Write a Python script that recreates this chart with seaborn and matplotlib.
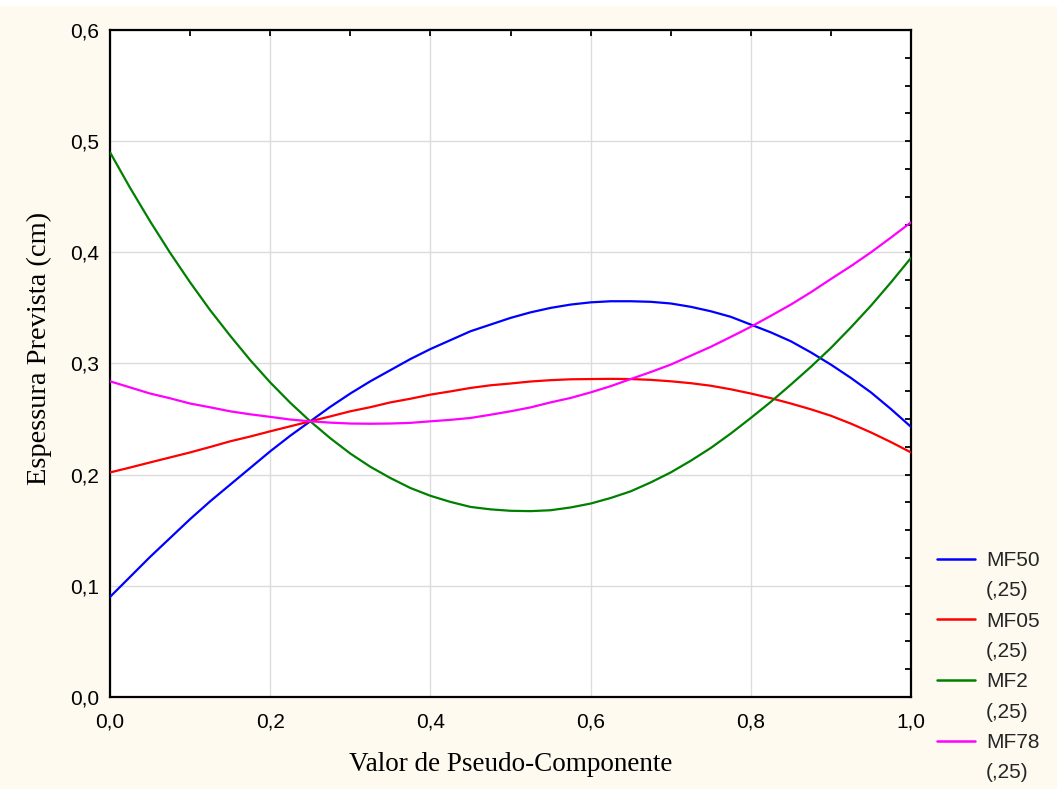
import matplotlib
matplotlib.use("Agg")
import matplotlib.pyplot as plt
import pandas as pd
import seaborn as sns
from matplotlib.lines import Line2D
from matplotlib.ticker import FuncFormatter, MultipleLocator

# ── Data ────────────────────────────────────────────────────────────
x_vals = [0.000, 0.025, 0.050, 0.075, 0.100, 0.125, 0.150, 0.175, 0.200, 0.225,
          0.250, 0.275, 0.300, 0.325, 0.350, 0.375, 0.400, 0.425, 0.450, 0.475,
          0.500, 0.525, 0.550, 0.575, 0.600, 0.625, 0.650, 0.675, 0.700, 0.725,
          0.750, 0.775, 0.800, 0.825, 0.850, 0.875, 0.900, 0.925, 0.950, 0.975,
          1.000]

mf50 = [0.090, 0.108, 0.126, 0.143, 0.160, 0.176, 0.191, 0.206, 0.221, 0.235,
        0.248, 0.261, 0.273, 0.284, 0.294, 0.304, 0.313, 0.321, 0.329, 0.335,
        0.341, 0.346, 0.350, 0.353, 0.355, 0.356, 0.356, 0.3555, 0.354, 0.351,
        0.347, 0.342, 0.335, 0.328, 0.320, 0.310, 0.299, 0.287, 0.274, 0.259,
        0.243]
mf05 = [0.202, 0.2064, 0.211, 0.2155, 0.220, 0.2249, 0.230, 0.2343, 0.239, 0.2435,
        0.248, 0.2524, 0.257, 0.2607, 0.265, 0.2683, 0.272, 0.2749, 0.278, 0.2804,
        0.282, 0.2838, 0.285, 0.2858, 0.286, 0.2862, 0.286, 0.2853, 0.284, 0.2823,
        0.280, 0.2768, 0.273, 0.2688, 0.264, 0.2588, 0.253, 0.2459, 0.238, 0.2293,
        0.220]
mf2 = [0.490, 0.4581, 0.428, 0.3996, 0.373, 0.348, 0.325, 0.3031, 0.283, 0.2647,
       0.248, 0.2328, 0.219, 0.2071, 0.197, 0.1880, 0.181, 0.1755, 0.171, 0.1688,
       0.1675, 0.1672, 0.168, 0.1705, 0.174, 0.179, 0.185, 0.193, 0.202, 0.2125,
       0.224, 0.237, 0.251, 0.2655, 0.281, 0.297, 0.314, 0.3325, 0.352, 0.373,
       0.395]
mf78 = [0.284, 0.2785, 0.273, 0.2687, 0.264, 0.2606, 0.257, 0.2543, 0.252, 0.2496,
        0.248, 0.2468, 0.246, 0.2458, 0.246, 0.2466, 0.248, 0.2493, 0.251, 0.2539,
        0.257, 0.2605, 0.265, 0.2690, 0.274, 0.2796, 0.286, 0.2923, 0.299, 0.3070,
        0.315, 0.3239, 0.333, 0.3429, 0.353, 0.3641, 0.376, 0.3876, 0.400, 0.4133,
        0.427]

series_names = ["MF50", "MF05", "MF2", "MF78"]
series_colors = {"MF50": "#0000ff", "MF05": "#ff0000", "MF2": "#008000", "MF78": "#ff00ff"}
level_label = "(,25)"

df = pd.DataFrame({
    "Valor": x_vals * 4,
    "Espessura": mf50 + mf05 + mf2 + mf78,
    "Serie": [n for n in series_names for _ in x_vals],
})

# ── Theme ────────────────────────────────────────────────────────────
sns.set_theme(style="white")
plt.rcParams["font.family"] = ["Liberation Sans", "DejaVu Sans"]

BG = "#fefaf0"
fig = plt.figure(figsize=(10.57, 7.89), dpi=100, facecolor=BG)
fig.patches.append(plt.Rectangle((0, 1 - 5 / 789), 1, 5 / 789, transform=fig.transFigure,
                                 color="white", zorder=0))
ax = fig.add_axes([110 / 1057, 92 / 789, 801 / 1057, 667 / 789])
ax.set_facecolor("white")

sns.lineplot(data=df, x="Valor", y="Espessura", hue="Serie", palette=series_colors,
             hue_order=series_names, linewidth=1.6, legend=False, ax=ax, zorder=3)

ax.set_xlim(0, 1)
ax.set_ylim(0, 0.6)
ax.xaxis.set_major_locator(MultipleLocator(0.2))
ax.xaxis.set_minor_locator(MultipleLocator(0.1))
ax.yaxis.set_major_locator(MultipleLocator(0.1))
ax.yaxis.set_minor_locator(MultipleLocator(0.025))
comma = FuncFormatter(lambda v, _: f"{v:.1f}".replace(".", ","))
ax.xaxis.set_major_formatter(comma)
ax.yaxis.set_major_formatter(comma)

ax.grid(True, which="major", color="#dcdcdc", linewidth=1.0, zorder=0)
for s in ax.spines.values():
    s.set_color("black")
    s.set_linewidth(1.6)
ax.tick_params(which="both", direction="in", top=True, right=True, length=4,
               width=1.3, color="black", labelsize=15, labelcolor="black")
ax.tick_params(axis="x", pad=11)
ax.tick_params(axis="y", pad=8)

serif = ["Liberation Serif", "DejaVu Serif"]
ax.set_xlabel("Valor de Pseudo-Componente", family=serif, fontsize=19.5, color="black")
ax.set_ylabel("Espessura Prevista (cm)", family=serif, fontsize=20.5, color="black")
ax.xaxis.set_label_coords(0.5, -0.083)
ax.yaxis.set_label_coords(-0.072, 0.523)

# legend: name on one row, level on the row below
handles, labels = [], []
for name in series_names:
    handles.append(Line2D([], [], color=series_colors[name], linewidth=1.8))
    labels.append(name)
    handles.append(Line2D([], [], color="none"))
    labels.append(level_label)
fig.legend(handles, labels, loc="upper left", bbox_to_anchor=(937 / 1057, 1 - 551 / 789),
           frameon=False, fontsize=15, handlelength=1.8, handletextpad=0.55,
           labelspacing=0.545, borderpad=0, borderaxespad=0)

fig.savefig("out.png", dpi=100, facecolor=BG)
